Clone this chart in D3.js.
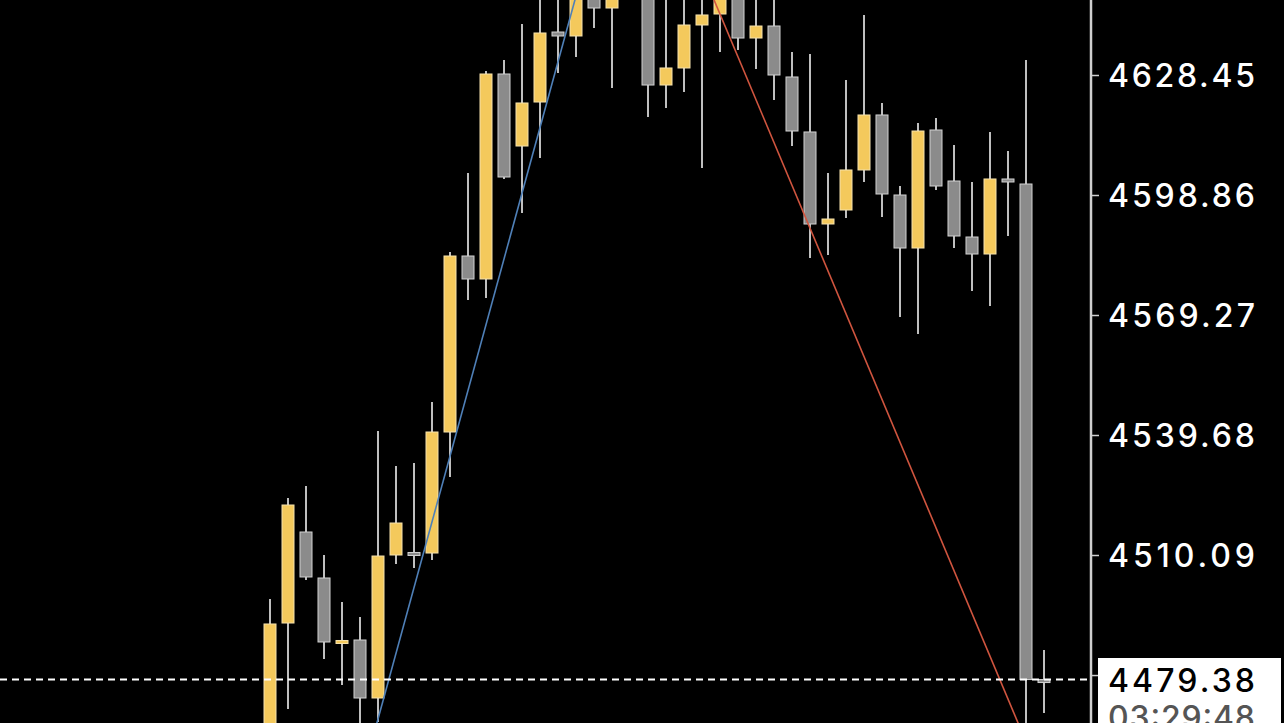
<!DOCTYPE html>
<html>
<head>
<meta charset="utf-8">
<script src="https://cdn.jsdelivr.net/npm/d3@7"></script>
<style>
  html, body { margin: 0; padding: 0; background: #000; overflow: hidden; }
</style>
</head>
<body>
<div id="chart"></div>
<script>
// Candle values (one per bar, left to right)
var opens = [4460.50, 4493.32, 4515.76, 4504.42, 4488.76, 4489.13, 4474.83, 4510.09, 4510.71, 4510.58,
    4540.42, 4583.82, 4578.15, 4628.70, 4610.94, 4621.79, 4639.05, 4638.07, 4651.00, 4644.97,
    4649.80, 4651.50, 4625.98, 4630.18, 4640.78, 4643.49, 4650.00, 4637.57, 4640.53, 4627.96,
    4614.40, 4591.71, 4595.16, 4605.03, 4618.59, 4598.86, 4585.79, 4614.89, 4602.31, 4588.50,
    4584.31, 4602.81, 4601.57, 4479.38];
var closes = [4493.08, 4522.42, 4504.67, 4488.64, 4489.01, 4474.83, 4509.84, 4517.98, 4510.46, 4540.42,
    4583.82, 4578.15, 4628.70, 4603.30, 4621.55, 4638.81, 4638.07, 4650.50, 4644.97, 4649.50,
    4655.00, 4625.98, 4630.18, 4640.78, 4643.25, 4648.50, 4637.57, 4640.53, 4628.45, 4614.64,
    4591.71, 4592.94, 4605.03, 4618.59, 4599.11, 4585.79, 4614.64, 4601.08, 4588.75, 4584.31,
    4602.81, 4602.07, 4479.38, 4479.38];
var highs = [4499.24, 4524.15, 4527.10, 4510.09, 4498.50, 4494.80, 4540.67, 4532.04, 4532.78, 4547.82,
    4584.81, 4604.29, 4629.44, 4632.15, 4641.03, 4649.40, 4650.00, 4652.00, 4654.00, 4653.00,
    4658.00, 4656.00, 4648.50, 4649.00, 4650.00, 4651.00, 4652.00, 4648.50, 4648.00, 4634.12,
    4633.63, 4604.29, 4627.22, 4643.25, 4621.55, 4601.08, 4616.61, 4617.85, 4611.19, 4602.07,
    4614.40, 4609.71, 4632.15, 4486.67];
var lows = [4457.00, 4472.12, 4503.93, 4484.45, 4478.04, 4465.70, 4468.91, 4507.87, 4506.89, 4508.86,
    4529.32, 4572.97, 4573.46, 4602.81, 4594.42, 4607.98, 4628.94, 4632.89, 4640.04, 4625.24,
    4648.00, 4618.09, 4620.31, 4624.26, 4605.52, 4634.12, 4634.61, 4629.93, 4622.29, 4610.94,
    4583.33, 4584.07, 4593.19, 4602.07, 4593.44, 4568.78, 4564.59, 4600.09, 4585.79, 4575.19,
    4571.49, 4588.75, 4464.47, 4471.13];

var tickLabels = [4628.45, 4598.86, 4569.27, 4539.68, 4510.09];
var lastPrice = 4479.38;
var lastTime = "03:29:48";

// drawn trend lines, [bar index, price]
var blueLine = [[5.64, 4463.80], [17.24, 4651.80]];
var redLine = [[24.37, 4650.11], [41.86, 4465.49]];

var svgWidth = 1284;
var svgHeight = 723;
var axisX = 1091;
var labelFont = "Inter, 'Liberation Sans', Arial, sans-serif";

var svg = d3.select("#chart")
    .append("svg")
    .attr("width", svgWidth)
    .attr("height", svgHeight)
    .style("display", "block")
    .style("background", "#000");

var candles = opens.map((o, i) => ({ i: i, o: o, c: closes[i], h: highs[i], l: lows[i] }));

var x = d3.scaleLinear()
    .domain([0, candles.length - 1])
    .range([270, 1044]);
var y = d3.scaleLinear()
    .domain([4510.09, 4628.45])
    .range([555, 75]);

var bodyW = 12;
var upFill = "#f4c95c", upStroke = "#f6e2ad";
var dnFill = "#8b8b8b", dnStroke = "#d2d2d2";

var plot = svg.append("g");

// wicks
plot.selectAll("line.wick")
    .data(candles)
    .enter()
    .append("line")
    .attr("class", "wick")
    .attr("x1", d => x(d.i))
    .attr("x2", d => x(d.i))
    .attr("y1", d => y(d.h))
    .attr("y2", d => y(d.l))
    .attr("stroke", "#fff")
    .attr("stroke-width", 1.5);

// bodies
plot.selectAll("rect.body")
    .data(candles)
    .enter()
    .append("rect")
    .attr("class", "body")
    .attr("x", d => x(d.i) - bodyW / 2)
    .attr("width", bodyW)
    .attr("y", d => Math.min(y(d.o), y(d.c)))
    .attr("height", d => Math.max(3, Math.abs(y(d.o) - y(d.c))))
    .attr("fill", d => d.c > d.o ? upFill : dnFill)
    .attr("stroke", d => d.c > d.o ? upStroke : dnStroke)
    .attr("stroke-width", 1);

// trend lines
var trend = d3.line().x(d => x(d[0])).y(d => y(d[1]));
plot.append("path")
    .attr("d", trend(blueLine))
    .attr("fill", "none")
    .attr("stroke", "#4f80b8")
    .attr("stroke-width", 1.6);
plot.append("path")
    .attr("d", trend(redLine))
    .attr("fill", "none")
    .attr("stroke", "#d0553f")
    .attr("stroke-width", 1.6);

// last price dashed line
svg.append("line")
    .attr("x1", 0)
    .attr("x2", axisX)
    .attr("y1", y(lastPrice))
    .attr("y2", y(lastPrice))
    .attr("stroke", "#fff")
    .attr("stroke-width", 2)
    .attr("stroke-dasharray", "7,5");

// right price axis
var rightAxis = d3.axisRight(y)
    .tickValues(tickLabels)
    .tickSize(8)
    .tickPadding(9)
    .tickFormat(d3.format(".2f"));

var axisG = svg.append("g")
    .attr("transform", `translate(${axisX}, 0)`)
    .call(rightAxis);
axisG.select(".domain").remove();
axisG.selectAll(".tick line").attr("stroke", "#cfcfcf").attr("stroke-width", 1.5);
axisG.selectAll(".tick text")
    .attr("fill", "#fff")
    .attr("dy", null)
    .attr("dominant-baseline", "central")
    .attr("textLength", 147)
    .attr("lengthAdjust", "spacing")
    .style("font-family", labelFont)
    .style("font-weight", 500)
    .style("font-size", "32px");

svg.append("line")
    .attr("x1", axisX)
    .attr("x2", axisX)
    .attr("y1", 0)
    .attr("y2", svgHeight)
    .attr("stroke", "#cfcfcf")
    .attr("stroke-width", 2.5);

// last price tag
var tagY = y(lastPrice);
svg.append("line")
    .attr("x1", axisX)
    .attr("x2", 1099)
    .attr("y1", tagY - 4)
    .attr("y2", tagY - 4)
    .attr("stroke", "#cfcfcf")
    .attr("stroke-width", 1.5);
svg.append("rect")
    .attr("x", 1098)
    .attr("y", 658)
    .attr("width", 183)
    .attr("height", 80)
    .attr("fill", "#fff");
svg.append("text")
    .attr("x", 1108)
    .attr("y", tagY + 1)
    .attr("dominant-baseline", "central")
    .attr("textLength", 147)
    .attr("lengthAdjust", "spacing")
    .attr("fill", "#000")
    .style("font-family", labelFont)
    .style("font-weight", 500)
    .style("font-size", "32px")
    .text(d3.format(".2f")(lastPrice));
svg.append("text")
    .attr("x", 1108)
    .attr("y", tagY + 49)
    .attr("textLength", 147)
    .attr("lengthAdjust", "spacing")
    .attr("fill", "#555")
    .style("font-family", labelFont)
    .style("font-weight", 500)
    .style("font-size", "32px")
    .text(lastTime);
</script>
</body>
</html>
